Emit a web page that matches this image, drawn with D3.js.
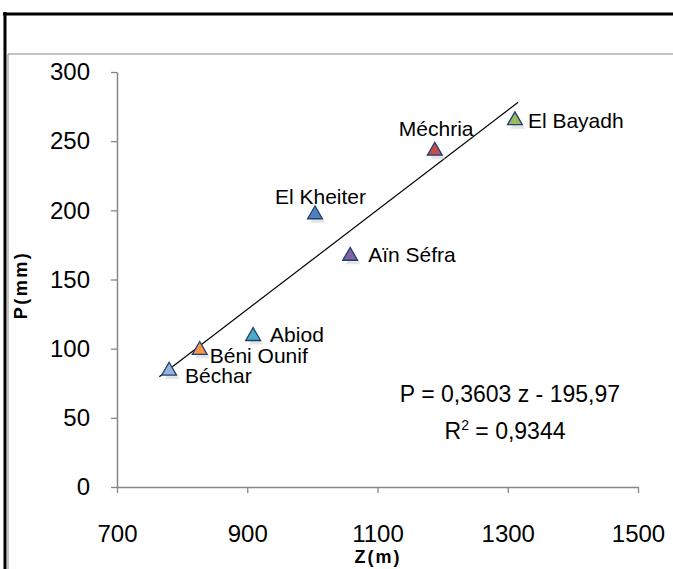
<!DOCTYPE html>
<html>
<head>
<meta charset="utf-8">
<script src="https://cdn.jsdelivr.net/npm/d3@7"></script>
<style>
  body { margin: 0; background: #fff; }
  text { font-family: "Liberation Sans", Arial, sans-serif; }
</style>
</head>
<body>
<svg id="chart" width="673" height="569"></svg>
<script>
// stations, altitude (m) and rainfall (mm)
const stations = ['Béchar', 'Béni Ounif', 'Abiod', 'El Kheiter', 'Aïn Séfra', 'Méchria', 'El Bayadh']
const altitudes = [780, 827, 909, 1004, 1058, 1188, 1311]
const rainfall = [84, 99, 109, 197, 167, 243, 265]
const colors = ['#95B3D7', '#F79646', '#4BACC6', '#4F81BD', '#8064A2', '#C0504D', '#9BBB59']
// label offsets relative to the marker
const labelDx = [16, 10, 17, -40, 18, -36, 13]
const labelDy = [12, 13, 6, -10, 6, -15, 8]

const xTicks = [700, 900, 1100, 1300, 1500]
const yTicks = [0, 50, 100, 150, 200, 250, 300]
const slope = 0.3603
const intercept = -195.97

const svg = d3.select('#chart')

// frame
svg.append('line').attr('x1', 3).attr('x2', 673).attr('y1', 14).attr('y2', 14)
  .attr('stroke', '#000').attr('stroke-width', 3)
svg.append('line').attr('x1', 5).attr('x2', 5).attr('y1', 12).attr('y2', 569)
  .attr('stroke', '#000').attr('stroke-width', 3)
svg.append('line').attr('x1', 8).attr('x2', 673).attr('y1', 54).attr('y2', 54)
  .attr('stroke', '#888').attr('stroke-width', 1)
svg.append('line').attr('x1', 8).attr('x2', 8).attr('y1', 54).attr('y2', 569)
  .attr('stroke', '#888').attr('stroke-width', 1)

const x = d3.scaleLinear().domain([700, 1500]).range([117, 638])
const y = d3.scaleLinear().domain([0, 300]).range([487, 72])

const xAxis = svg.append('g').attr('transform', 'translate(0,487)')
  .call(d3.axisBottom(x).tickValues(xTicks).tickFormat(d3.format('d'))
    .tickSize(6).tickPadding(32).tickSizeOuter(0))
const yAxis = svg.append('g').attr('transform', 'translate(117,0)')
  .call(d3.axisLeft(y).tickValues(yTicks).tickFormat(d3.format('d'))
    .tickSize(6).tickPadding(21).tickSizeOuter(0))

for (const ax of [xAxis, yAxis]) {
  ax.select('.domain').attr('stroke', '#868686').attr('stroke-width', 1.5)
  ax.selectAll('.tick line').attr('stroke', '#868686').attr('stroke-width', 1.3)
  ax.selectAll('.tick text').attr('font-size', 24).attr('fill', '#000')
    .attr('font-family', '"Liberation Sans", Arial, sans-serif')
}

// axis titles
svg.append('text').attr('x', 378).attr('y', 563).attr('text-anchor', 'middle')
  .attr('font-size', 18).attr('font-weight', 'bold').attr('letter-spacing', 2).text('Z(m)')
svg.append('text').attr('transform', 'translate(27,285) rotate(-90)')
  .attr('text-anchor', 'middle').attr('font-size', 18).attr('font-weight', 'bold')
  .attr('letter-spacing', 2.5).text('P(mm)')

// trend line
const xMin = d3.min(altitudes), xMax = d3.max(altitudes)
svg.append('line')
  .attr('x1', x(xMin - 15)).attr('y1', y(slope * (xMin - 15) + intercept))
  .attr('x2', x(xMax + 5)).attr('y2', y(slope * (xMax + 5) + intercept))
  .attr('stroke', '#000').attr('stroke-width', 1.2)

// markers
const tri = d3.symbol().type(d3.symbolTriangle).size(95)
const pts = stations.map((s, i) => ({ name: s, z: altitudes[i], p: rainfall[i], i: i }))

svg.append('g').selectAll('path').data(pts).join('path')
  .attr('d', tri)
  .attr('transform', d => `translate(${x(d.z) + 3},${y(d.p) + 4})`)
  .attr('fill', '#ccc').attr('opacity', 0.5)

svg.append('g').selectAll('path').data(pts).join('path')
  .attr('d', tri)
  .attr('transform', d => `translate(${x(d.z)},${y(d.p)})`)
  .attr('fill', d => colors[d.i])
  .attr('stroke', '#1F3F77').attr('stroke-width', 1.3)

svg.append('g').selectAll('text').data(pts).join('text')
  .attr('x', d => x(d.z) + labelDx[d.i])
  .attr('y', d => y(d.p) + labelDy[d.i])
  .attr('font-size', 21)
  .text(d => d.name)

// equation
svg.append('text').attr('x', 620).attr('y', 402).attr('text-anchor', 'end')
  .attr('font-size', 23).text('P = 0,3603 z - 195,97')
const r2 = svg.append('text').attr('x', 505).attr('y', 439).attr('text-anchor', 'middle')
  .attr('font-size', 23)
r2.append('tspan').text('R')
r2.append('tspan').attr('font-size', 14).attr('dy', -9).text('2')
r2.append('tspan').attr('dy', 9).text(' = 0,9344')
</script>
</body>
</html>
